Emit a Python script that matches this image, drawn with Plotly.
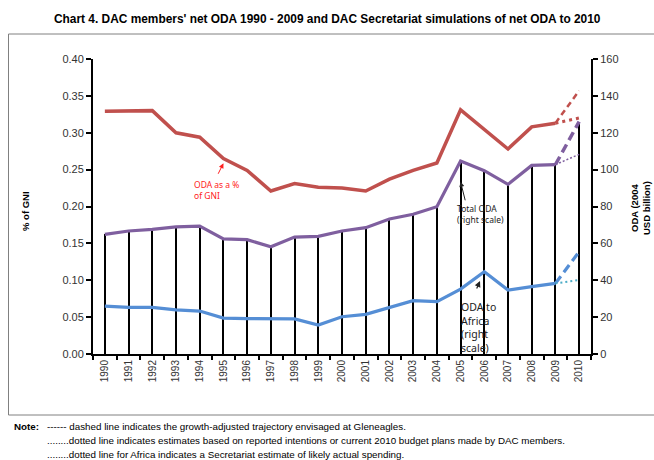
import plotly.graph_objects as go

years = [str(y) for y in range(1990, 2011)]
hist_years = years[:20]

gni_pct = [0.329, 0.330, 0.330, 0.300, 0.294, 0.265, 0.249, 0.221, 0.231, 0.226,
           0.225, 0.221, 0.237, 0.249, 0.259, 0.331, 0.305, 0.278, 0.308, 0.313]
gni_2010_dashed = 0.357
gni_2010_dotted = 0.32

total_oda = [64.9, 66.7, 67.6, 68.9, 69.4, 62.4, 62.0, 58.2, 63.4, 63.8,
             66.7, 68.5, 73.2, 75.8, 79.9, 104.7, 99.4, 92.0, 102.3, 102.7]
total_2010_dashed = 126.0
total_2010_dotted = 108.3

africa_oda = [26.0, 25.3, 25.3, 23.9, 23.3, 19.5, 19.2, 19.2, 19.0, 15.7,
              20.2, 21.5, 25.1, 28.9, 28.4, 35.2, 44.6, 34.7, 36.5, 38.3]
africa_2010_dashed = 55.5
africa_2010_dotted = 40.1

label_years = ["1992", "1997", "2004", "2005", "2007", "2009"]

note_lines = [
    "------ dashed line indicates the growth-adjusted trajectory envisaged at Gleneagles.",
    "........dotted line indicates estimates based on reported intentions or current 2010 budget plans made by DAC members.",
    "........dotted line for Africa indicates a Secretariat estimate of likely actual spending.",
]

RED = "#C0504D"
PURPLE = "#7F5F9F"
BLUE = "#558ED5"
TEAL = "#4BACC6"

PL, PR, PT, PB = 93, 591, 59, 354
W, H = 654, 460


def px(x):
    return (x - PL) / (PR - PL)


def py(y):
    return (PB - y) / (PB - PT)


fig = go.Figure()

# vertical drop lines (bars) for total ODA
fig.add_trace(go.Bar(x=years, y=total_oda + [total_2010_dashed], yaxis="y2",
                     width=0.085, marker=dict(color="black", line=dict(width=0)),
                     showlegend=False, hoverinfo="skip"))

# red % of GNI
fig.add_trace(go.Scatter(x=hist_years, y=gni_pct, mode="lines",
                         line=dict(color=RED, width=3.5), showlegend=False))
fig.add_trace(go.Scatter(x=[years[19], years[20]], y=[gni_pct[-1], gni_2010_dashed], mode="lines",
                         line=dict(color=RED, width=2.5, dash="6px,4px"), showlegend=False))
fig.add_trace(go.Scatter(x=[years[19], years[20]], y=[gni_pct[-1], gni_2010_dotted], mode="lines",
                         line=dict(color=RED, width=3, dash="3px,4px"), showlegend=False))

# purple total ODA
fig.add_trace(go.Scatter(x=hist_years, y=total_oda, yaxis="y2", mode="lines",
                         line=dict(color=PURPLE, width=3.2), showlegend=False))
fig.add_trace(go.Scatter(x=[years[19], years[20]], y=[total_oda[-1], total_2010_dashed], yaxis="y2",
                         mode="lines", line=dict(color=PURPLE, width=3.5, dash="9px,5px"), showlegend=False))
fig.add_trace(go.Scatter(x=[years[19], years[20]], y=[total_oda[-1], total_2010_dotted], yaxis="y2",
                         mode="lines", line=dict(color=PURPLE, width=1.5, dash="2px,2px"), showlegend=False))

# blue Africa
fig.add_trace(go.Scatter(x=hist_years, y=africa_oda, yaxis="y2", mode="lines",
                         line=dict(color=BLUE, width=3.2), showlegend=False))
fig.add_trace(go.Scatter(x=[years[19], years[20]], y=[africa_oda[-1], africa_2010_dashed], yaxis="y2",
                         mode="lines", line=dict(color=BLUE, width=3.2, dash="9px,5px"), showlegend=False))
fig.add_trace(go.Scatter(x=[years[19], years[20]], y=[africa_oda[-1], africa_2010_dotted], yaxis="y2",
                         mode="lines", line=dict(color=TEAL, width=2, dash="2px,3px"), showlegend=False))

LBL_FONT = dict(family="Noto Sans, Open Sans, sans-serif", size=9.5, color="#222222")
annotations = []
# value labels
offsets = {"1992": (0, 14), "1997": (0, -10), "2004": (-11, 15), "2005": (0, 14),
           "2007": (0, -8), "2009": (-5, 12)}
for yr in label_years:
    v = gni_pct[years.index(yr)]
    dx, dy = offsets[yr]
    annotations.append(dict(x=yr, y=v, xref="x", yref="y", text=f"<b>{v:.2f}</b>",
                            showarrow=False, xshift=dx, yshift=dy, font=LBL_FONT))
annotations.append(dict(x=years[20], y=gni_2010_dotted, xref="x", yref="y",
                        text=f"<b>{gni_2010_dotted:.2f}</b>", showarrow=False, xshift=2, yshift=7,
                        font=LBL_FONT))


def paper_text(x, y, text, font, xanchor="center", align="left", **kw):
    return dict(x=px(x), y=py(y), xref="paper", yref="paper", text=text, showarrow=False,
                xanchor=xanchor, yanchor="middle", align=align, font=font, **kw)


# series annotations
annotations.append(paper_text(216, 190, "ODA as a %<br>of GNI",
                              dict(family="Noto Sans, sans-serif", size=8.5, color="#FF2020")))
annotations.append(dict(x=5, y=0.2586, xref="x", yref="y", ax=-6, ay=12, text="",
                        showarrow=True, arrowhead=2, arrowsize=1, arrowwidth=1, arrowcolor="#FF2020"))

annotations.append(paper_text(480, 214, "Total ODA<br>(right scale)",
                              dict(family="Noto Sans, sans-serif", size=8.5, color="#222222")))
annotations.append(dict(x=15, y=93.4, xref="x", yref="y2", ax=5, ay=20, text="",
                        showarrow=True, arrowhead=2, arrowsize=1, arrowwidth=1, arrowcolor="#222222"))

annotations.append(paper_text(459, 327, "ODA to<br>Africa<br>(right<br>scale)",
                              dict(family="Noto Sans, sans-serif", size=10.5, color="#222222"),
                              xanchor="left"))
annotations.append(dict(x=15.82, y=39.6, xref="x", yref="y2", ax=-4, ay=9, text="",
                        showarrow=True, arrowhead=2, arrowsize=1, arrowwidth=1.2, arrowcolor="#222222"))

# axis titles
AX_FONT = dict(family="Liberation Sans, Arial, sans-serif", size=9.5, color="black")
annotations.append(paper_text(25, 211, "<b>% of GNI</b>", AX_FONT, align="center", textangle=-90))
annotations.append(paper_text(640, 208, "<b>ODA (2004<br>USD billion)</b>", AX_FONT, align="center",
                              textangle=-90))

# title
annotations.append(paper_text(327, 19,
                              "<b>Chart 4. DAC members' net ODA 1990 - 2009 and DAC Secretariat simulations of net ODA to 2010</b>",
                              dict(family="Liberation Sans, Arial, sans-serif", size=11.9, color="black"),
                              align="center"))

# notes
NOTE_FONT = dict(family="Liberation Sans, Arial, sans-serif", size=9.8, color="black")
annotations.append(paper_text(12, 426.5, "<b>Note:</b>", NOTE_FONT, xanchor="left"))
for i, line in enumerate(note_lines):
    annotations.append(paper_text(45, 426.5 + 14 * i, line, NOTE_FONT, xanchor="left"))

shapes = [dict(type="rect", xref="paper", yref="paper", x0=px(8.5), x1=px(700), y0=py(415), y1=py(34),
               line=dict(color="#808080", width=1), fillcolor="rgba(0,0,0,0)", layer="below")]

TICK_FONT = dict(family="Liberation Sans, Arial, sans-serif", size=11, color="#333333")

fig.update_layout(
    width=W, height=H,
    margin=dict(l=PL, r=W - PR, t=PT, b=H - PB),
    paper_bgcolor="white", plot_bgcolor="white",
    showlegend=False,
    bargap=0,
    xaxis=dict(type="category", categoryorder="array", categoryarray=years,
               range=[-0.5, 20.5], tickangle=-90, ticks="outside", tickson="boundaries",
               ticklen=4, tickwidth=1.5, tickcolor="black",
               showline=True, linecolor="black", linewidth=2, showgrid=False, zeroline=False,
               tickfont=dict(family="Liberation Sans, Arial, sans-serif", size=10, color="#333333")),
    yaxis=dict(range=[0, 0.4], dtick=0.05, tickformat=".2f", ticks="outside", ticklen=5,
               tickwidth=1.5, tickcolor="black", showline=True, linecolor="black", linewidth=2,
               showgrid=False, zeroline=False, tickfont=TICK_FONT),
    yaxis2=dict(range=[0, 160], dtick=20, overlaying="y", side="right", ticks="outside", ticklen=5,
                tickwidth=1.5, tickcolor="black", showline=True, linecolor="black", linewidth=2,
                showgrid=False, zeroline=False, tickfont=TICK_FONT),
    annotations=annotations,
    shapes=shapes,
)

fig.write_html("out.html", config={"displayModeBar": False},
               post_script="document.body.style.margin='0';document.body.style.padding='0';")
